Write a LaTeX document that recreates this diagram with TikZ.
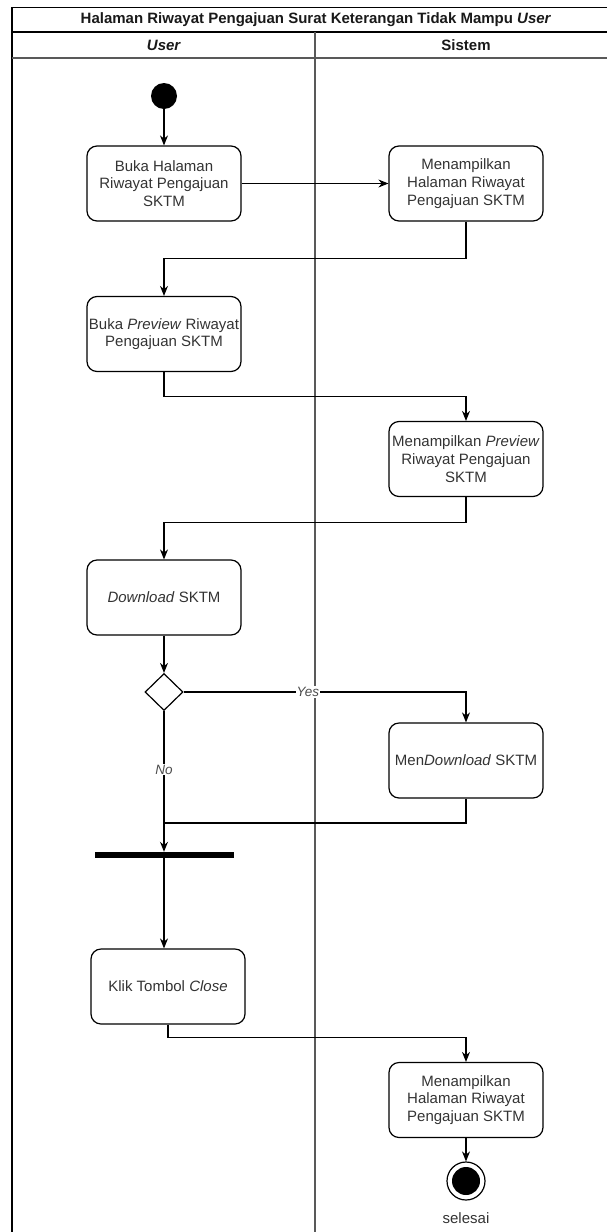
\documentclass[tikz,border=0pt]{standalone}
\usepackage{fontspec}
\setmainfont{Liberation Sans}
\usetikzlibrary{shapes.geometric, arrows.meta, calc}
\tikzset{
  aktivitas/.style={rectangle, rounded corners=10pt, minimum width=154pt, minimum height=75pt, align=center, draw=black, line width=1.2pt, text=black!80, inner sep=1pt, font=\fontsize{15}{17.7}\selectfont},
  keputusan/.style={diamond, minimum width=38pt, minimum height=37pt, draw=black, line width=1.2pt, inner sep=0pt},
  awal/.style={circle, fill=black, minimum size=26pt, inner sep=0pt},
  akhir/.style={circle, draw=black, line width=1.2pt, minimum size=38pt, inner sep=0pt},
  palang/.style={rectangle, fill=black, minimum width=139pt, minimum height=6pt, inner sep=0pt},
  judul/.style={font=\fontsize{15}{18}\selectfont\bfseries, text=black!90},
  ket/.style={fill=white, inner sep=1pt, text=black!70, font=\fontsize{13.5}{16}\selectfont\itshape},
  arrow/.style={line width=1.2pt, -{Stealth[length=10pt, width=8pt]}},
  garis/.style={line width=1.2pt}
}
\begin{document}
\begin{tikzpicture}[x=1pt, y=-1pt]
    \useasboundingbox (0,0) rectangle (607,1232);

    % Swimlane
    \draw [line width=1.6pt] (12,7.5) rectangle (622,1250);
    \draw [line width=1.4pt] (12,32) -- (622,32);
    \draw [line width=1.8pt, black!65] (12,58) -- (622,58);
    \draw [line width=1.4pt, black!65] (315,32) -- (315,1250);
    \node (judul) [judul] at (316,20) {Halaman Riwayat Pengajuan Surat Keterangan Tidak Mampu \textit{User}};
    \node (laneuser) [judul] at (164,45) {\textit{User}};
    \node (lanesistem) [judul] at (466,45) {Sistem};

    % Node
    \node (mulai) [awal] at (164,96) {};
    \node (buka) [aktivitas] at (164,183.5) {Buka Halaman\\Riwayat Pengajuan\\SKTM};
    \node (tampil) [aktivitas] at (466,183.5) {Menampilkan\\Halaman Riwayat\\Pengajuan SKTM};
    \node (preview) [aktivitas] at (164,334) {Buka \textit{Preview} Riwayat\\Pengajuan SKTM};
    \node (tampilpreview) [aktivitas] at (466,459) {Menampilkan \textit{Preview}\\Riwayat Pengajuan\\SKTM};
    \node (download) [aktivitas] at (164,597.5) {\textit{Download} SKTM};
    \node (cek) [keputusan] at (164,692) {};
    \node (mendownload) [aktivitas] at (466,760.5) {Men\textit{Download} SKTM};
    \coordinate (gabung) at (164,823);
    \node (bar) [palang] at (164,855) {};
    \node (close) [aktivitas] at (168,986.5) {Klik Tombol \textit{Close}};
    \node (kembali) [aktivitas] at (466,1100) {Menampilkan\\Halaman Riwayat\\Pengajuan SKTM};
    \node (selesai) [akhir] at (466,1181) {};
    \node (selesaiisi) [circle, fill=black, minimum size=28pt, inner sep=0pt] at (selesai) {};
    \node (teksselesai) [text=black!80, font=\fontsize{15}{18}\selectfont] at (466,1218) {selesai};

    % Alur
    \draw [arrow] (mulai) -- (buka);
    \draw [arrow] (buka) -- (tampil);
    \draw [arrow] (tampil.south) -- ++(0,37) -| (preview.north);
    \draw [arrow] (preview.south) -- ++(0,24) -| (tampilpreview.north);
    \draw [arrow] (tampilpreview.south) -- ++(0,25) -| (download.north);
    \draw [arrow] (download) -- (cek);

    % Keputusan
    \draw [arrow] (cek.east) -| node[pos=0.22, ket] {Yes} (mendownload.north);
    \draw [arrow] (cek.south) -- node[pos=0.415, ket] {No} (bar.north);
    \draw [garis] (mendownload.south) |- (gabung);

    \draw [arrow] (bar.south) -- (bar.south |- close.north);
    \draw [arrow] (close.south) -- ++(0,12.7) -| (kembali.north);
    \draw [arrow] (kembali) -- (selesai);

\end{tikzpicture}
\end{document}
